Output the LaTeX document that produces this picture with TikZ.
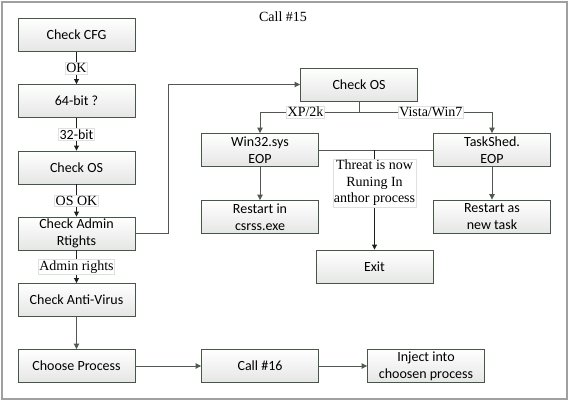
\documentclass[tikz,border=0pt]{standalone}
\usepackage{fontspec}
\setmainfont{Liberation Serif}
\newfontfamily\calib{Carlito}
\usetikzlibrary{arrows.meta}
\definecolor{bord}{RGB}{72,86,72}
\definecolor{ln}{RGB}{80,90,80}
\definecolor{dk}{RGB}{30,30,30}
\definecolor{frame}{RGB}{160,160,160}
\tikzset{
  box/.style={draw=bord, line width=0.9pt, top color=white, bottom color=black!10,
    minimum width=117pt, minimum height=33pt, inner sep=0pt, align=center,
    font=\calib\fontsize{14}{16.7}\selectfont},
  lab/.style={fill=white, draw=black!12, line width=0.4pt, inner sep=1pt, align=center,
    font=\fontsize{14}{16.7}\selectfont},
  slab/.style={lab, font=\calib\fontsize{14}{16.7}\selectfont},
  arr/.style={draw=ln, line width=0.9pt, -{Triangle[width=5.5pt,length=5.5pt]}},
  darr/.style={draw=dk, line width=0.9pt, -{Triangle[width=5pt,length=5pt]}},
  plain/.style={draw=ln, line width=0.9pt},
}
\begin{document}
\begin{tikzpicture}[x=1pt,y=-1pt]
\useasboundingbox (0,0) rectangle (570,402);
\draw[frame, line width=1.5pt] (2,2) rectangle (567,399);
\node[font=\fontsize{14}{16.7}\selectfont] (title) at (283,17) {Call \#15};
% left column
\node[box] (cfg) at (76.5,35) {Check CFG};
\node[box] (bit) at (76.5,101) {64-bit ?};
\node[box] (os1) at (76.5,167.5) {Check OS};
\node[box] (adm) at (76.5,233.5) {Check Admin\\Rtights};
\node[box] (av)  at (76.5,300) {Check Anti-Virus};
\node[box] (cp)  at (76.5,366) {Choose Process};
\node[box] (c16) at (260,366) {Call \#16};
\node[box] (inj) at (426,366) {Inject into\\choosen process};
% right part
\node[box] (os2) at (359,84.5) {Check OS};
\node[box] (win) at (260,150) {Win32.sys\\EOP};
\node[box] (rc)  at (260,217) {Restart in\\csrss.exe};
\node[box] (ts)  at (492,150) {TaskShed.\\EOP};
\node[box] (ra)  at (492,216.5) {Restart as\\new task};
\node[box] (ex)  at (374.5,266.5) {Exit};
% left chain
\draw[darr] (cfg) -- node[lab]{OK} (bit);
\draw[darr] (bit) -- node[slab]{32-bit} (os1);
\draw[darr] (os1) -- node[lab]{OS OK} (adm);
\draw[darr] (adm) -- node[lab]{Admin rights} (av);
\draw[arr] (av) -- (cp);
\draw[arr] (cp) -- (c16);
\draw[arr] (c16) -- (inj);
% admin to check os
\coordinate (k) at (168,84.5);
\draw[arr] (adm.east) -| (k) -- (os2.west);
% split
\coordinate (sp) at (359,112);
\draw[plain] (os2.south) -- (sp);
\draw[arr] (sp) -| node[lab, pos=0.27]{XP/2k} (win.north);
\draw[arr] (sp) -| node[lab, pos=0.27]{Vista/Win7} (ts.north);
\draw[arr] (win) -- (rc);
\draw[arr] (ts) -- (ra);
% threat
\coordinate (j) at (374.5,150);
\draw[plain] (win.east) -- (j);
\draw[plain] (ts.west) -- (j);
\draw[darr] (j) -- node[lab, pos=0.33]{Threat is now\\Runing In\\anthor process} (ex.north);
\end{tikzpicture}
\end{document}
